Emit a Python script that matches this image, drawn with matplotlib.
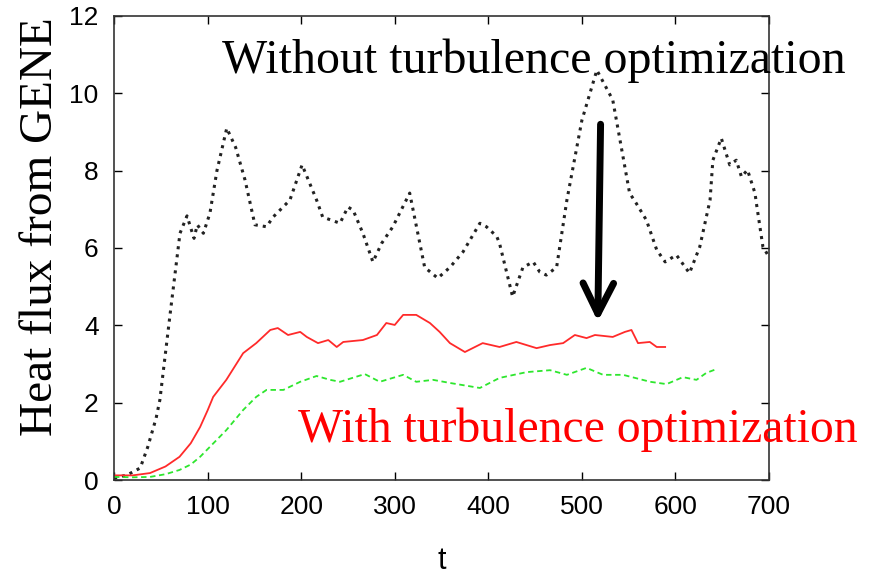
import matplotlib
matplotlib.use('Agg')
import matplotlib.pyplot as plt

# black dotted: without turbulence optimization
t_black = [0, 14, 28, 36, 45, 49, 60, 70.5, 78, 85.5, 89, 95.5, 102.5, 110, 120.5, 130, 140, 150.6,
           163, 170, 188, 201, 216.5, 223, 241.5, 250, 255.5, 266, 276.7, 286, 298, 316, 332, 346,
           359, 373, 391, 398, 409, 412, 426, 437, 448, 455, 462, 473, 484, 500, 516, 533, 551,
           558, 569, 580, 589, 601, 615, 626, 637, 640, 649, 658, 665, 670.6, 677, 685, 686.5,
           693.5, 700]
q_black = [0.05, 0.13, 0.31, 0.85, 1.6, 2.07, 4.3, 6.38, 6.83, 6.25, 6.6, 6.38, 6.9, 8.0, 9.1, 8.6,
           7.76, 6.6, 6.55, 6.8, 7.24, 8.15, 7.24, 6.8, 6.64, 7.06, 6.98, 6.38, 5.64, 6.12, 6.55,
           7.42, 5.5, 5.22, 5.5, 5.9, 6.64, 6.55, 6.3, 6.12, 4.74, 5.5, 5.64, 5.38, 5.3, 5.5, 7.24,
           9.3, 10.6, 9.83, 7.42, 7.16, 6.72, 5.95, 5.64, 5.82, 5.35, 6.03, 7.24, 8.27, 8.84, 8.15,
           8.27, 7.84, 8.02, 7.42, 7.16, 6.03, 5.77]

# red solid
t_red = [0, 20, 38.5, 55, 70, 82, 92, 100, 106, 120, 138, 152, 167, 175, 186, 199, 206, 218, 229,
         238, 245, 266, 281, 291, 300, 309, 323, 337.6, 348, 359, 375, 394, 412, 430, 451.6, 466,
         480, 492.5, 505, 514, 533, 546, 553, 560, 572.6, 580, 589]
q_red = [0.12, 0.12, 0.18, 0.35, 0.6, 0.95, 1.37, 1.8, 2.15, 2.59, 3.28, 3.54, 3.88, 3.93, 3.75,
         3.83, 3.7, 3.54, 3.62, 3.44, 3.57, 3.62, 3.75, 4.06, 4.01, 4.27, 4.27, 4.06, 3.83, 3.54,
         3.31, 3.54, 3.44, 3.57, 3.41, 3.49, 3.54, 3.75, 3.67, 3.75, 3.7, 3.83, 3.88, 3.54, 3.57,
         3.44, 3.44]

# green dashed
t_green = [0, 20, 38.5, 55, 70, 82, 92, 105, 120, 138, 152, 163, 181, 199, 216.5, 231, 241.5, 268,
           284, 309, 323, 341, 359, 391, 412, 441, 466, 484, 505, 522.7, 544, 573, 590.5, 608,
           622.5, 633, 644]
q_green = [0.08, 0.07, 0.08, 0.15, 0.26, 0.4, 0.6, 0.92, 1.29, 1.81, 2.15, 2.33, 2.33, 2.54, 2.69,
           2.59, 2.54, 2.74, 2.54, 2.72, 2.54, 2.59, 2.51, 2.38, 2.64, 2.79, 2.84, 2.72, 2.9, 2.72,
           2.72, 2.54, 2.48, 2.66, 2.59, 2.77, 2.87]

fig = plt.figure(figsize=(8.71, 5.75), dpi=100)
ax = fig.add_axes([0.1309, 0.1652, 0.7520, 0.8070])

ax.plot(t_black, q_black, ':', color='#222222', lw=2.2)
ax.plot(t_red, q_red, '-', color='#ff2a2a', lw=1.3)
ax.plot(t_green, q_green, '--', color='#2ee62e', lw=1.3, dashes=(3, 2))

ax.set_xlim(0, 700)
ax.set_ylim(0, 12)
ax.set_xticks(range(0, 701, 100))
ax.set_yticks(range(0, 13, 2))
ax.tick_params(direction='in', top=True, right=True, length=6, width=1,
               labelsize=19, pad=11)
for lab in ax.get_xticklabels() + ax.get_yticklabels():
    lab.set_fontfamily('Liberation Sans')
for s in ax.spines.values():
    s.set_linewidth(1.2)
    s.set_color('#333333')

ax.set_xlabel('t', fontsize=22, family='Liberation Sans', labelpad=19)
fig.text(0.047, 0.605, 'Heat flux from GENE', rotation=90, fontsize=34,
         family='Liberation Serif', ha='center', va='center')

ax.text(115, 10.52, 'Without turbulence optimization', fontsize=34.5,
        family='Liberation Serif', ha='left', va='baseline', clip_on=False)
ax.text(197, 0.98, 'With turbulence optimization', fontsize=34.3, color='#ff0000',
        family='Liberation Serif', ha='left', va='baseline', clip_on=False)

ax.annotate('', xy=(517, 4.1), xytext=(520, 9.2),
            arrowprops=dict(arrowstyle='->,head_length=1.1,head_width=0.55',
                            lw=5, color='black', mutation_scale=20,
                            shrinkA=0, shrinkB=0))

fig.savefig('out.png', dpi=100)
